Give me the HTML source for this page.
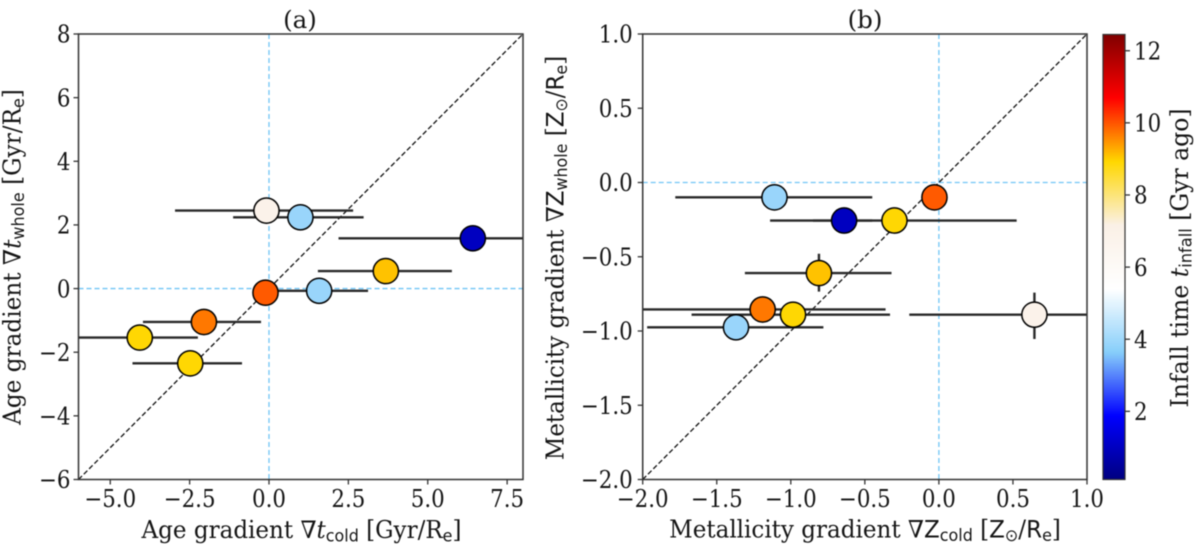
<!DOCTYPE html>
<html lang="en">
<head>
<meta charset="utf-8">
<title>Age and metallicity gradients</title>
<style>
html,body{margin:0;padding:0;background:#fff;width:1200px;height:553px;overflow:hidden}
svg{display:block;filter:blur(.4px)}
text{font-family:"DejaVu Serif","Liberation Serif",serif;fill:#151515}
.sub{font-family:"DejaVu Sans","Liberation Sans",sans-serif}
.it{font-style:italic}
</style>
</head>
<body>
<svg id="fig" xmlns="http://www.w3.org/2000/svg" width="1200" height="553" viewBox="0 0 1200 553">
  <defs>
    <clipPath id="clipA"><rect x="78.5" y="34" width="444.5" height="445.5"/></clipPath>
    <clipPath id="clipB"><rect x="642.7" y="34" width="444.3" height="445.5"/></clipPath>
  </defs>
  <g id="panelA"></g>
  <g id="panelB"></g>
  <g id="cbar"></g>

  <text x="300" y="28" font-size="24.5" text-anchor="middle">(a)</text>
  <text x="865" y="28" font-size="24.5" text-anchor="middle">(b)</text>

  <text transform="translate(301.5,538) scale(.96,1)" font-size="24" text-anchor="middle">Age gradient ∇<tspan class="it">t</tspan><tspan class="sub" font-size="16.6" dy="3.6">cold</tspan><tspan dy="-3.6"> [Gyr/R</tspan><tspan class="sub" font-size="16.6" dy="3.6">e</tspan><tspan dy="-3.6">]</tspan></text>
  <text transform="translate(20.5,257) rotate(-90) scale(.965,1)" font-size="24" text-anchor="middle">Age gradient ∇<tspan class="it">t</tspan><tspan class="sub" font-size="16.6" dy="3.6">whole</tspan><tspan dy="-3.6"> [Gyr/R</tspan><tspan class="sub" font-size="16.6" dy="3.6">e</tspan><tspan dy="-3.6">]</tspan></text>

  <text transform="translate(865,537.5) scale(.96,1)" font-size="24" text-anchor="middle">Metallicity gradient ∇<tspan class="sub">Z</tspan><tspan class="sub" font-size="16.6" dy="3.6">cold</tspan><tspan dy="-3.6"> [</tspan><tspan class="sub">Z</tspan><tspan class="sub" font-size="16.6" dy="3.6">⊙</tspan><tspan dy="-3.6">/</tspan><tspan class="sub">R</tspan><tspan class="sub" font-size="16.6" dy="3.6">e</tspan><tspan dy="-3.6">]</tspan></text>
  <text transform="translate(563.5,258) rotate(-90) scale(.957,1)" font-size="24" text-anchor="middle">Metallicity gradient ∇<tspan class="sub">Z</tspan><tspan class="sub" font-size="16.6" dy="3.6">whole</tspan><tspan dy="-3.6"> [</tspan><tspan class="sub">Z</tspan><tspan class="sub" font-size="16.6" dy="3.6">⊙</tspan><tspan dy="-3.6">/</tspan><tspan class="sub">R</tspan><tspan class="sub" font-size="16.6" dy="3.6">e</tspan><tspan dy="-3.6">]</tspan></text>

  <text transform="translate(1188,258) rotate(-90) scale(.98,1)" font-size="24" text-anchor="middle">Infall time <tspan class="it">t</tspan><tspan class="sub" font-size="16.6" dy="3.6">infall</tspan><tspan dy="-3.6"> [Gyr ago]</tspan></text>
</svg>
<script>
// Shared colour scale
const cbarMin = 0.11;
const cbarMax = 12.45;
const cbarColors = ['#000080', '#0000ff', '#87cefa', '#ffffff', '#faf0e6', '#ffd700', '#ff0000', '#800000'];
const cbarTicks = [2, 4, 6, 8, 10, 12];

// Panel (a): age gradients
const aXTicks = [-5, -2.5, 0, 2.5, 5, 7.5];
const aYTicks = [-6, -4, -2, 0, 2, 4, 6, 8];
const aCold = [-0.08, 0.99, 6.42, 3.68, -0.11, 1.58, -2.05, -4.07, -2.48];
const aColdLow = [-2.96, -1.13, 2.19, 1.54, -0.4, 0.05, -3.97, -6.3, -4.3];
const aColdHigh = [2.65, 2.98, 10.6, 5.76, 0.2, 3.12, -0.25, -2.24, -0.85];
const aWhole = [2.45, 2.24, 1.58, 0.55, -0.13, -0.07, -1.05, -1.54, -2.35];
const aWholeLow = [2.3, 2.1, 1.4, 0.4, -0.3, -0.2, -1.2, -1.72, -2.5];
const aWholeHigh = [2.6, 2.4, 1.75, 0.7, 0.05, 0.05, -0.9, -1.36, -2.2];
const aInfall = [6.9, 3.9, 1.0, 9.1, 9.95, 3.9, 9.7, 8.9, 8.9];

// Panel (b): metallicity gradients
const bXTicks = [-2, -1.5, -1, -0.5, 0, 0.5, 1];
const bYTicks = [-2, -1.5, -1, -0.5, 0, 0.5, 1];
const bCold = [-1.11, -0.64, -0.30, -0.03, -0.81, -1.19, -0.985, -1.37, 0.645];
const bColdLow = [-1.78, -0.85, -1.14, -0.1, -1.31, -2.2, -1.67, -1.97, -0.2];
const bColdHigh = [-0.45, -0.45, 0.525, 0.04, -0.32, -0.36, -0.33, -0.78, 1.55];
const bWhole = [-0.10, -0.256, -0.256, -0.10, -0.61, -0.855, -0.89, -0.975, -0.89];
const bWholeLow = [-0.15, -0.3, -0.3, -0.15, -0.735, -0.9, -0.94, -1.02, -1.054];
const bWholeHigh = [-0.05, -0.21, -0.21, -0.05, -0.48, -0.81, -0.84, -0.93, -0.742];
const bInfall = [3.9, 1.0, 8.9, 9.95, 9.1, 9.7, 8.9, 3.9, 6.9];

const NS = 'http://www.w3.org/2000/svg';
function mk(parent, tag, attrs) {
  const el = document.createElementNS(NS, tag);
  for (const k in attrs) el.setAttribute(k, attrs[k]);
  parent.appendChild(el);
  return el;
}
function scale(d0, d1, p0, p1) {
  return v => p0 + (v - d0) * (p1 - p0) / (d1 - d0);
}
function hex(c) {
  return [1, 3, 5].map(i => parseInt(c.substr(i, 2), 16));
}
function cmap(v) {
  const t = Math.max(0, Math.min(1, (v - cbarMin) / (cbarMax - cbarMin))) * (cbarColors.length - 1);
  const i = Math.min(cbarColors.length - 2, Math.floor(t));
  const f = t - i;
  const a = hex(cbarColors[i]);
  const b = hex(cbarColors[i + 1]);
  return 'rgb(' + a.map((x, j) => Math.round(x + (b[j] - x) * f)).join(',') + ')';
}
function fmt(v, digits) {
  return v.toFixed(digits).replace('-', '\u2212');
}
function squeezed(px, py) {
  return 'translate(' + px + ',' + py + ') scale(.89,1)';
}

function drawPanel(g, box, dom, clipId, xTicks, yTicks, xDigits, yDigits, yGap, cold, coldLow, coldHigh, whole, wholeLow, wholeHigh, infall) {
  const x = scale(dom.x0, dom.x1, box.l, box.r);
  const y = scale(dom.y0, dom.y1, box.b, box.t);
  const plot = mk(g, 'g', {'clip-path': 'url(#' + clipId + ')'});

  const hRef = mk(plot, 'line', {x1: box.l, x2: box.r, y1: y(0), y2: y(0), stroke: '#6fc4f5', 'stroke-width': 1.3, 'stroke-dasharray': '5 3'});
  
  
  const vRef = mk(plot, 'line', {x1: x(0), x2: x(0), y1: box.t, y2: box.b, stroke: '#6fc4f5', 'stroke-width': 1.3, 'stroke-dasharray': '5 3'});
  
  
  const diag = mk(plot, 'line', {x1: x(dom.x0), y1: y(dom.x0), x2: x(dom.x1), y2: y(dom.x1), stroke: '#111', 'stroke-width': 1.3, 'stroke-dasharray': '5 2.5'});
  
  

  cold.forEach((c, i) => {
    const hBar = mk(plot, 'line', {x1: x(coldLow[i]), x2: x(coldHigh[i]), y1: y(whole[i]), y2: y(whole[i]), stroke: '#2a2a2a', 'stroke-width': 2.4});
    
    
    const vBar = mk(plot, 'line', {x1: x(c), x2: x(c), y1: y(wholeLow[i]), y2: y(wholeHigh[i]), stroke: '#2a2a2a', 'stroke-width': 2.4});
    
    
  });
  cold.forEach((c, i) => {
    const pt = mk(plot, 'circle', {cx: x(c), cy: y(whole[i]), r: 12.6, fill: cmap(infall[i]), stroke: '#000', 'stroke-width': 1.5});
    
    
  });

  const frame = mk(g, 'rect', {x: box.l, y: box.t, width: box.r - box.l, height: box.b - box.t, fill: 'none', stroke: '#333', 'stroke-width': 1.5});
  
  

  xTicks.forEach(v => {
    const tick = mk(g, 'line', {x1: x(v), x2: x(v), y1: box.b, y2: box.b + 5, stroke: '#333', 'stroke-width': 1.3});
    
    
    const lab = mk(g, 'text', {transform: squeezed(x(v), box.b + 27.5), 'font-size': 24, 'text-anchor': 'middle'});
    
    
    lab.textContent = fmt(v, xDigits);
  });
  yTicks.forEach(v => {
    const tick = mk(g, 'line', {x1: box.l - 5, x2: box.l, y1: y(v), y2: y(v), stroke: '#333', 'stroke-width': 1.3});
    
    
    const lab = mk(g, 'text', {transform: squeezed(box.l - yGap, y(v) + 8.7), 'font-size': 24, 'text-anchor': 'end'});
    
    
    lab.textContent = fmt(v, yDigits);
  });
}

drawPanel(document.getElementById('panelA'),
  {l: 78.5, r: 523, t: 34, b: 479.5}, {x0: -6, x1: 8, y0: -6, y1: 8}, 'clipA',
  aXTicks, aYTicks, 1, 0, 8, aCold, aColdLow, aColdHigh, aWhole, aWholeLow, aWholeHigh, aInfall);
drawPanel(document.getElementById('panelB'),
  {l: 642.7, r: 1087, t: 34, b: 479.5}, {x0: -2, x1: 1, y0: -2, y1: 1}, 'clipB',
  bXTicks, bYTicks, 1, 1, 10, bCold, bColdLow, bColdHigh, bWhole, bWholeLow, bWholeHigh, bInfall);

// Colorbar
(function () {
  const g = document.getElementById('cbar');
  const box = {l: 1103, r: 1125, t: 34.5, b: 479.5};
  const y = scale(cbarMin, cbarMax, box.b, box.t);
  const ramp = mk(g, 'g', {});
  
  
  for (let p = box.t; p < box.b; p += 1) {
    const v = cbarMax - (p + 0.5 - box.t) * (cbarMax - cbarMin) / (box.b - box.t);
    mk(ramp, 'rect', {x: box.l, y: p, width: box.r - box.l, height: 1.2, fill: cmap(v)});
  }
  const frame = mk(g, 'rect', {x: box.l, y: box.t, width: box.r - box.l, height: box.b - box.t, fill: 'none', stroke: '#333', 'stroke-width': 1.2});
  
  
  cbarTicks.forEach(v => {
    const tick = mk(g, 'line', {x1: box.r, x2: box.r + 5, y1: y(v), y2: y(v), stroke: '#333', 'stroke-width': 1.3});
    
    
    const lab = mk(g, 'text', {transform: squeezed(box.r + 9, y(v) + 8.7), 'font-size': 24});
    
    
    lab.textContent = String(v);
  });
})();
</script>
</body>
</html>
